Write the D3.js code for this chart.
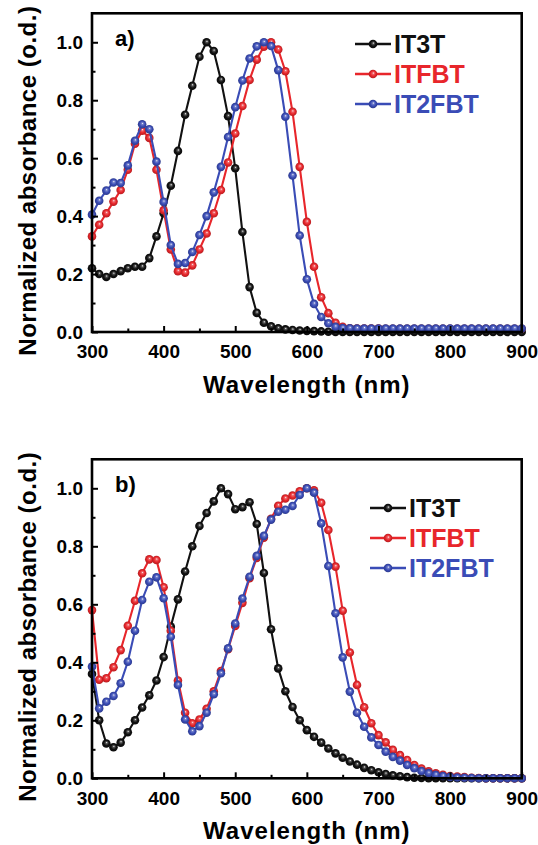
<!DOCTYPE html>
<html><head><meta charset="utf-8">
<script src="https://cdn.jsdelivr.net/npm/d3@7"></script>
<style>
body{margin:0;background:#fff;}
svg text{font-family:"Liberation Sans",Arial,sans-serif;font-weight:bold;}
</style></head>
<body><svg id="c" width="538" height="845"></svg>
<script>
// wavelengths 300..900 nm every 10 nm
const wavelength = [300,310,320,330,340,350,360,370,380,390,400,410,420,430,440,450,460,470,480,490,500,510,520,530,540,550,560,570,580,590,600,610,620,630,640,650,660,670,680,690,700,710,720,730,740,750,760,770,780,790,800,810,820,830,840,850,860,870,880,890,900];
const seriesNames = ["IT3T","ITFBT","IT2FBT"];
const seriesColors = ["#111111","#e8262b","#3a4cb6"];
const xTicks = [300,400,500,600,700,800,900];
const yTicks = [0.0,0.2,0.4,0.6,0.8,1.0];

// panel a)
const IT3T_a = [0.22,0.20,0.19,0.20,0.21,0.22,0.225,0.225,0.255,0.33,0.41,0.505,0.625,0.75,0.85,0.95,1.0,0.97,0.87,0.745,0.565,0.345,0.155,0.066,0.032,0.02,0.013,0.009,0.007,0.005,0.004,0.003,0.002,0.001,0,0,0,0,0,0,0,0,0,0,0,0,0,0,0,0,0,0,0,0,0,0,0,0,0,0,0];
const ITFBT_a = [0.33,0.37,0.41,0.45,0.49,0.56,0.65,0.695,0.67,0.56,0.42,0.285,0.21,0.205,0.23,0.285,0.34,0.41,0.49,0.585,0.685,0.78,0.87,0.94,0.985,1.0,0.975,0.90,0.76,0.57,0.38,0.225,0.12,0.065,0.032,0.018,0.013,0.012,0.012,0.012,0.012,0.011,0.011,0.011,0.011,0.011,0.011,0.011,0.011,0.011,0.011,0.011,0.011,0.011,0.011,0.011,0.011,0.011,0.011,0.011,0.011];
const IT2FBT_a = [0.405,0.453,0.488,0.516,0.514,0.575,0.66,0.717,0.70,0.588,0.449,0.30,0.235,0.238,0.276,0.335,0.40,0.482,0.57,0.673,0.776,0.868,0.944,0.986,1.0,0.987,0.904,0.743,0.54,0.333,0.182,0.097,0.052,0.03,0.018,0.014,0.013,0.012,0.012,0.012,0.012,0.012,0.012,0.012,0.012,0.012,0.012,0.012,0.012,0.012,0.012,0.012,0.012,0.012,0.012,0.012,0.012,0.012,0.012,0.012,0.012];

// panel b)
const IT3T_b = [0.36,0.20,0.12,0.107,0.123,0.159,0.20,0.244,0.286,0.337,0.418,0.523,0.617,0.713,0.80,0.87,0.915,0.955,1.0,0.98,0.928,0.935,0.952,0.877,0.708,0.514,0.379,0.30,0.246,0.20,0.166,0.143,0.123,0.103,0.086,0.071,0.058,0.047,0.036,0.028,0.021,0.015,0.01,0.007,0.004,0.002,0.001,0,0,0,0,0,0,0,0,0,0,0,0,0,0];
const ITFBT_b = [0.58,0.34,0.345,0.383,0.442,0.526,0.612,0.707,0.755,0.753,0.659,0.509,0.337,0.226,0.19,0.203,0.24,0.30,0.37,0.445,0.525,0.605,0.69,0.76,0.83,0.895,0.94,0.965,0.975,0.99,1.0,0.993,0.95,0.856,0.73,0.578,0.434,0.322,0.245,0.19,0.149,0.124,0.098,0.08,0.063,0.046,0.034,0.024,0.017,0.012,0.008,0.006,0.004,0.002,0.001,0,0,0,0,0,0];
const IT2FBT_b = [0.385,0.241,0.264,0.284,0.328,0.402,0.509,0.615,0.678,0.693,0.621,0.488,0.322,0.203,0.162,0.18,0.226,0.29,0.362,0.448,0.534,0.62,0.695,0.767,0.836,0.892,0.919,0.926,0.939,0.977,1.0,0.985,0.879,0.732,0.569,0.417,0.299,0.226,0.178,0.141,0.115,0.092,0.074,0.061,0.046,0.035,0.025,0.018,0.012,0.008,0.005,0.003,0.002,0.001,0,0,0,0,0,0,0];

const svg = d3.select("#c");
const defs = svg.append("defs");
seriesColors.forEach((c,i)=>{
  const g = defs.append("radialGradient").attr("id","ball"+i).attr("cx","50%").attr("cy","50%").attr("r","50%").attr("fx","55%").attr("fy","38%");
  g.append("stop").attr("offset","0%").attr("stop-color","#ffffff");
  g.append("stop").attr("offset","22%").attr("stop-color",d3.interpolateRgb(c,"#fff")(0.3));
  g.append("stop").attr("offset","60%").attr("stop-color",c);
  g.append("stop").attr("offset","100%").attr("stop-color",d3.color(c).darker(0.7));
});

function panel(cfg){
  const {top,bottom,left,right,data,label,legendX,legendY} = cfg;
  const x = d3.scaleLinear().domain([300,900]).range([left,right]);
  const y = d3.scaleLinear().domain([0,1.1]).range([bottom,top]);
  const g = svg.append("g");
  const line = d3.line().x((d,i)=>x(wavelength[i])).y(d=>y(d));
  data.forEach((arr,si)=>{
    g.append("path").datum(arr).attr("d",line).attr("fill","none")
      .attr("stroke",seriesColors[si]).attr("stroke-width",2.1);
    g.selectAll(null).data(arr).enter().append("circle")
      .attr("cx",(d,i)=>x(wavelength[i])).attr("cy",d=>y(d)).attr("r",4.3)
      .attr("fill","url(#ball"+si+")");
  });
  g.append("rect").attr("x",left).attr("y",top).attr("width",right-left).attr("height",bottom-top)
    .attr("fill","none").attr("stroke","#000").attr("stroke-width",2.6);
  const xa = g.append("g").attr("transform",`translate(0,${bottom})`)
    .call(d3.axisBottom(x).tickValues(xTicks).tickFormat(d3.format("d")).tickSize(-6).tickPadding(13));
  const xm = g.append("g").attr("transform",`translate(0,${bottom})`)
    .call(d3.axisBottom(x).tickValues(d3.range(350,900,100)).tickFormat("").tickSize(-3.5));
  const ya = g.append("g").attr("transform",`translate(${left},0)`)
    .call(d3.axisLeft(y).tickValues(yTicks).tickFormat(d3.format(".1f")).tickSize(-6).tickPadding(9));
  const ym = g.append("g").attr("transform",`translate(${left},0)`)
    .call(d3.axisLeft(y).tickValues([0.1,0.3,0.5,0.7,0.9]).tickFormat("").tickSize(-3.5));
  [xa,xm,ya,ym].forEach(a=>{
    a.select(".domain").remove();
    a.selectAll("line").attr("stroke","#000").attr("stroke-width",2);
    a.selectAll("text").attr("font-size",19).attr("fill","#000").style("font-family","Liberation Sans, Arial").style("font-weight","bold");
  });
  g.append("text").attr("x",(left+right)/2).attr("y",bottom+61).attr("text-anchor","middle")
    .attr("font-size",24).attr("letter-spacing",1).text("Wavelength (nm)");
  g.append("text").attr("transform",`translate(36,${(top+bottom)/2+8}) rotate(-90)`).attr("text-anchor","middle")
    .attr("font-size",24).attr("letter-spacing",0.5).text("Normalized absorbance (o.d.)");
  g.append("text").attr("x",left+23).attr("y",top+33).attr("font-size",22).text(label);
  seriesNames.forEach((n,i)=>{
    const ly = legendY + i*30;
    g.append("line").attr("x1",legendX).attr("x2",legendX+36).attr("y1",ly).attr("y2",ly)
      .attr("stroke",seriesColors[i]).attr("stroke-width",2.4);
    g.append("circle").attr("cx",legendX+18).attr("cy",ly).attr("r",4.3).attr("fill","url(#ball"+i+")");
    g.append("text").attr("x",legendX+39).attr("y",ly+9).attr("font-size",25)
      .attr("fill",i===0?"#111":seriesColors[i]).text(n);
  });
}

panel({top:13.3,bottom:332,left:92,right:521.7,data:[IT3T_a,ITFBT_a,IT2FBT_a],label:"a)",legendX:355,legendY:44});
panel({top:459.3,bottom:778.3,left:92,right:521.7,data:[IT3T_b,ITFBT_b,IT2FBT_b],label:"b)",legendX:370,legendY:508});
</script></body></html>
